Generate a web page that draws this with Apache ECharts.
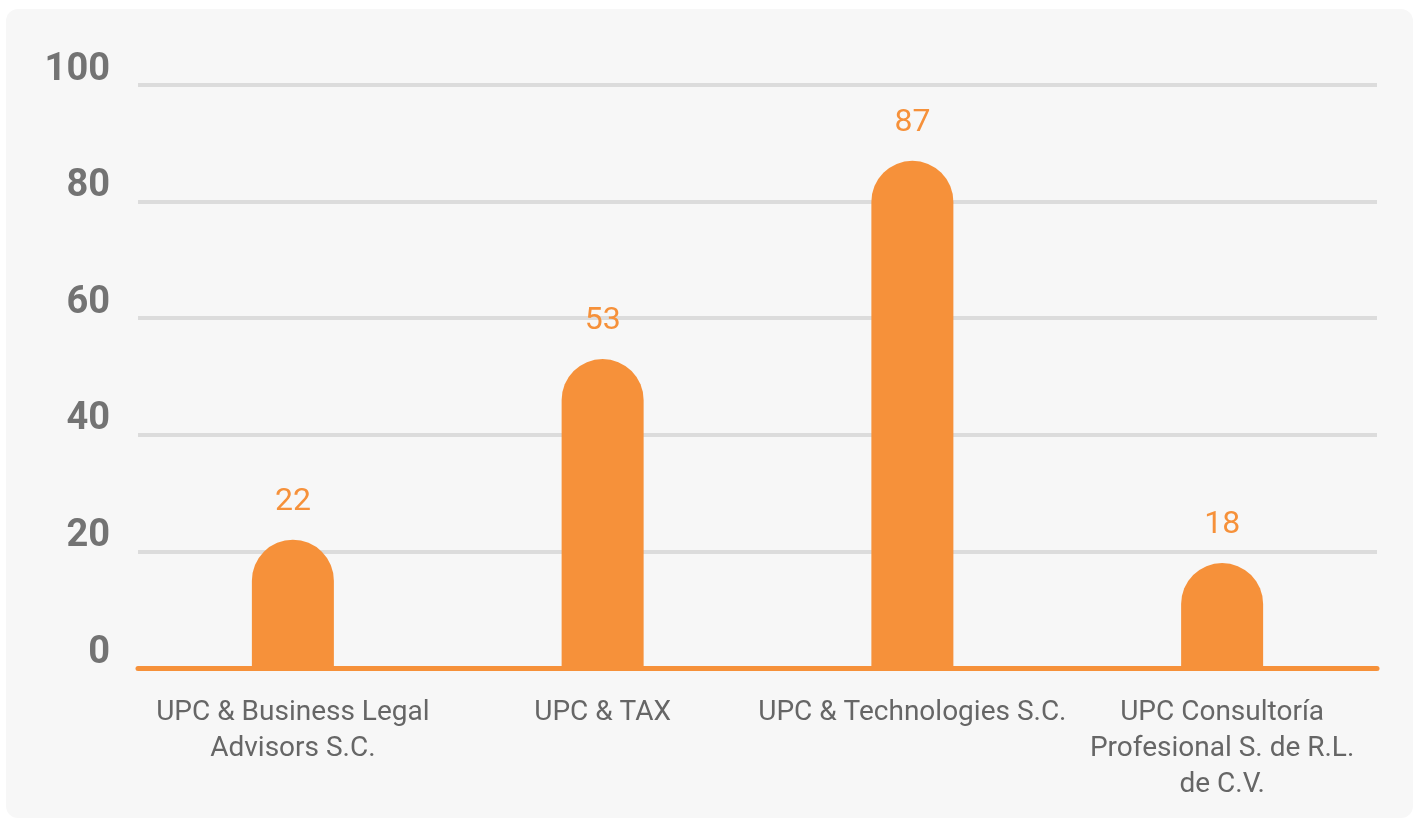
<!DOCTYPE html>
<html>
<head>
<meta charset="utf-8">
<script src="https://cdn.jsdelivr.net/npm/echarts@6/dist/echarts.min.js"></script>
<style>
  html, body { margin: 0; padding: 0; background: #ffffff; }
  #panel { position: absolute; left: 6px; top: 9px; width: 1407px; height: 809px; background: #f7f7f7; border-radius: 12px; }
  #chart { position: absolute; left: 0; top: 0; width: 1419px; height: 818px; }
</style>
</head>
<body>
<div id="panel"></div>
<div id="chart"></div>
<script>
const categories = [
  "UPC & Business Legal Advisors S.C.",
  "UPC & TAX",
  "UPC & Technologies S.C.",
  "UPC Consultoría Profesional S. de R.L. de C.V."
];
const categoryLabels = [
  "UPC & Business Legal\nAdvisors S.C.",
  "UPC & TAX",
  "UPC & Technologies S.C.",
  "UPC Consultoría\nProfesional S. de R.L.\nde C.V."
];
const values = [22, 53, 87, 18];
const yTicks = [0, 20, 40, 60, 80, 100];

const orange = '#F6913A';
const chart = echarts.init(document.getElementById('chart'), null, { renderer: 'canvas' });
chart.setOption({
  backgroundColor: 'transparent',
  animation: false,
  grid: { left: 138, right: 42, top: 85, bottom: 150, containLabel: false },
  xAxis: {
    type: 'category',
    data: categories,
    axisTick: { show: false },
    axisLine: { show: true, lineStyle: { color: orange, width: 5 } },
    axisLabel: {
      interval: 0,
      margin: 27,
      color: '#666666',
      fontFamily: 'Roboto',
      fontSize: 28,
      lineHeight: 36,
      formatter: (v, i) => categoryLabels[i]
    }
  },
  yAxis: {
    type: 'value',
    min: yTicks[0],
    max: yTicks[yTicks.length - 1],
    interval: 20,
    axisLine: { show: false },
    axisTick: { show: false },
    splitLine: { show: true, lineStyle: { color: '#dcdcdc', width: 4 } },
    axisLabel: {
      margin: 28,
      color: '#737373',
      fontFamily: 'Roboto',
      fontWeight: 'bold',
      fontSize: 38,
      verticalAlign: 'bottom',
      lineHeight: 30
    }
  },
  series: [{
    type: 'bar',
    data: values,
    barWidth: 82,
    itemStyle: { color: orange, borderRadius: [41, 41, 0, 0] },
    label: {
      show: true,
      position: 'top',
      distance: 22,
      color: orange,
      fontFamily: 'Roboto',
      fontSize: 32
    }
  }]
});
</script>
</body>
</html>
